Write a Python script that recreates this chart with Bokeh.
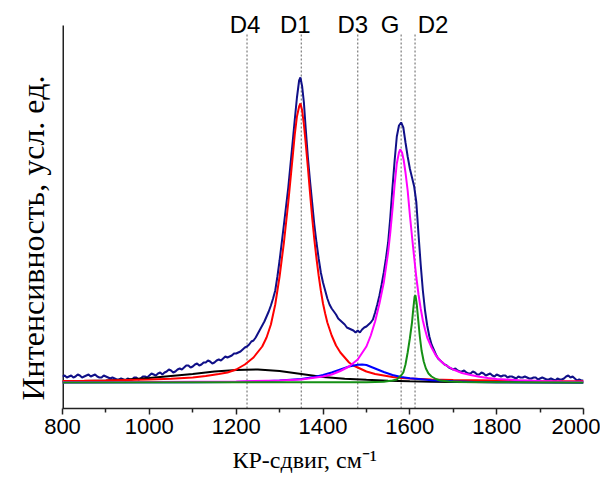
from bokeh.plotting import figure
from bokeh.models import Range1d, FixedTicker, Title
from bokeh.embed import file_html
from bokeh.resources import INLINE
from bokeh.core.properties import value

# ---------------- data ----------------
# Raman shift, cm^-1 ; intensity in arbitrary units (baseline = 0)
env_x = [800, 805, 810, 815, 820, 825, 830, 835, 840, 845,
         850, 855, 860, 865, 870, 875, 880, 885, 890, 895,
         900, 905, 910, 915, 920, 925, 930, 935, 940, 945,
         950, 955, 960, 965, 970, 975, 980, 985, 990, 995,
         1000, 1005, 1010, 1015, 1020, 1025, 1030, 1035, 1040, 1045,
         1050, 1055, 1060, 1065, 1070, 1075, 1080, 1085, 1090, 1095,
         1100, 1105, 1110, 1115, 1120, 1125, 1130, 1135, 1140, 1145,
         1150, 1155, 1160, 1165, 1170, 1175, 1180, 1185, 1190, 1195,
         1200, 1205, 1210, 1215, 1220, 1225, 1230, 1235, 1240, 1245,
         1250, 1255, 1260, 1265, 1270, 1275, 1280, 1285, 1290, 1295,
         1300, 1310, 1320, 1330, 1335, 1340, 1345, 1348, 1352, 1356,
         1360, 1365, 1370, 1375, 1380, 1385, 1390, 1395, 1400, 1405,
         1410, 1415, 1420, 1425, 1430, 1435, 1440, 1445, 1450, 1455,
         1460, 1465, 1470, 1475, 1480, 1485, 1490, 1495, 1500, 1505,
         1510, 1515, 1520, 1525, 1530, 1535, 1540, 1545, 1550, 1555,
         1560, 1565, 1570, 1575, 1580, 1585, 1590, 1595, 1600, 1605,
         1610, 1615, 1620, 1625, 1630, 1635, 1640, 1645, 1650, 1655,
         1660, 1665, 1670, 1675, 1680, 1685, 1690, 1695, 1700, 1705,
         1710, 1715, 1720, 1725, 1730, 1735, 1740, 1745, 1750, 1755,
         1760, 1765, 1770, 1775, 1780, 1785, 1790, 1795, 1800, 1805,
         1810, 1815, 1820, 1825, 1830, 1835, 1840, 1845, 1850, 1855,
         1860, 1865, 1870, 1875, 1880, 1885, 1890, 1895, 1900, 1905,
         1910, 1915, 1920, 1925, 1930, 1935, 1940, 1945, 1950, 1955,
         1960, 1965, 1970, 1975, 1980, 1985, 1990, 1995, 2000]
env_y = [6, 7, 5, 6, 7, 5, 6, 8, 7, 5,
         6, 7, 8, 6, 7, 8, 6, 5, 5, 7,
         6, 5, 4, 5, 4, 3, 3, 4, 3, 2,
         4, 3, 3, 5, 5, 3, 4, 6, 6, 5,
         7, 9, 8, 7, 9, 10, 8, 10, 11, 13,
         12, 10, 11, 13, 14, 13, 15, 17, 17, 15,
         16, 18, 19, 17, 18, 20, 20, 22, 21, 19,
         20, 22, 23, 22, 24, 26, 25, 26, 27, 29,
         29, 30, 31, 33, 35, 36, 38, 41, 42, 45,
         49, 53, 57, 61, 66, 71, 77, 84, 92, 106,
         122, 158, 195, 240, 263, 285, 302, 305, 296, 280,
         255, 226, 202, 180, 158, 140, 124, 110, 100, 92,
         84, 78, 74, 71, 68, 64, 62, 60, 58, 55,
         54, 53, 52, 50, 52, 50, 53, 55, 56, 58,
         60, 63, 70, 78, 87, 98, 110, 124, 140, 165,
         195, 222, 246, 257, 260, 255, 240, 226, 214, 205,
         196, 180, 148, 118, 92, 72, 57, 46, 38, 33,
         28, 24, 22, 20, 18, 17, 15, 14, 13, 14,
         12, 11, 11, 12, 10, 9, 9, 11, 10, 8,
         8, 10, 9, 7, 8, 9, 7, 6, 8, 7,
         6, 7, 7, 5, 6, 6, 5, 4, 6, 5,
         5, 6, 5, 4, 4, 5, 5, 3, 4, 5,
         4, 3, 3, 4, 3, 2, 4, 3, 3, 4,
         6, 7, 5, 6, 4, 2, 3, 2, 2]

d1_x = [800, 850, 900, 950, 1000, 1050, 1100, 1130, 1160, 1180, 1200, 1220, 1240, 1260, 1270, 1280, 1290, 1300, 1310,
        1320, 1330, 1335, 1340, 1345, 1348, 1352, 1356, 1360, 1365, 1370, 1375, 1380, 1385, 1390, 1395, 1400, 1405,
        1410, 1420, 1430, 1440, 1450, 1460, 1470, 1480, 1500, 1520, 1540, 1560, 1580, 1600, 1650, 1700, 1800, 1900, 2000]
d1_y = [1.5, 1.7, 2, 2.5, 3, 3.7, 5, 6.5, 8.5, 10, 13, 18, 25, 36, 45, 58, 78, 106, 140,
        180, 225, 248, 266, 276, 279, 272, 258, 240, 216, 190, 165, 143, 124, 107, 92, 79, 69,
        60, 47, 37, 30, 25, 20, 17, 15, 11, 8.5, 7, 5.5, 4.5, 4, 3, 2.5, 2, 1.5, 1.3]

d4_x = [800, 850, 900, 950, 1000, 1050, 1100, 1150, 1200, 1250, 1300, 1350, 1400, 1450, 1500, 1550, 1600, 1650, 1700, 1800, 2000]
d4_y = [1, 1.5, 2, 3, 4.5, 6.5, 8.5, 11, 12.5, 13, 11.5, 8.5, 5.5, 3.8, 2.7, 1.8, 1.2, 0.7, 0.4, 0.2, 0.1]

d3_x = [800, 1100, 1200, 1250, 1300, 1350, 1380, 1400, 1420, 1440, 1460, 1480, 1490, 1500, 1520, 1540, 1560, 1580,
        1600, 1620, 1650, 1700, 1750, 1800, 2000]
d3_y = [0, 0.2, 0.5, 1, 2, 3.5, 5.5, 7.5, 10, 13, 16, 17.8, 18, 17.5, 14, 10.5, 7.5, 5.5,
        4.3, 3.5, 2.3, 1.2, 0.5, 0.2, 0]

g_x = [800, 1000, 1200, 1300, 1350, 1400, 1420, 1440, 1460, 1480, 1500, 1510, 1520, 1530, 1540, 1550, 1555, 1560,
       1565, 1570, 1575, 1578, 1582, 1586, 1590, 1595, 1600, 1605, 1610, 1615, 1620, 1625, 1630, 1635, 1640, 1650,
       1660, 1670, 1680, 1700, 1720, 1740, 1760, 1780, 1800, 1850, 1900, 1950, 2000]
g_y = [0.3, 0.5, 1, 2, 3, 6, 8, 11.5, 16, 23, 36, 47, 61, 79, 100, 130, 150, 173,
       198, 219, 230, 233, 230, 222, 210, 192, 168, 146, 125, 105, 88, 74, 62, 53, 45, 35,
       27, 22, 18, 13, 9.5, 7.5, 5.8, 4.5, 3.6, 2.3, 1.5, 1, 0.8]

d2_x = [800, 1500, 1540, 1560, 1570, 1580, 1585, 1590, 1595, 1600, 1605, 1608, 1611, 1613, 1616, 1619, 1623, 1627,
        1632, 1637, 1643, 1650, 1660, 1670, 1690, 1720, 2000]
d2_y = [0, 0.3, 0.8, 2, 3, 7, 10, 18, 30, 44, 60, 74, 86, 87, 78, 64, 46, 32,
        21, 14, 9, 6, 3.5, 2, 1, 0.5, 0]

band_names = ["D4", "D1", "D3", "G", "D2"]
band_pos = [1225, 1350, 1480, 1580, 1612]

x_ticks = [800, 1000, 1200, 1400, 1600, 1800, 2000]
x_minor = [900, 1100, 1300, 1500, 1700, 1900]

x_label = "КР-сдвиг, см⁻¹"
y_label = "Интенсивность, усл. ед."

# ---------------- styling ----------------
Y0 = -26          # bottom of the frame (x axis)
Y_AXIS_TOP = 357  # where the drawn y axis line ends
Y_TOP = 377       # top of the frame (room for band names)
Y_NAMES = 358
Y_LINES_TOP = 349
label_dx = [-2, -6, -5, -11, 18]   # pixel offsets of band names relative to their lines

p = figure(width=600, height=490, output_backend="svg", toolbar_location=None,
           x_range=Range1d(800, 2000), y_range=Range1d(Y0, Y_TOP),
           min_border_left=61, min_border_right=17, min_border_top=5, min_border_bottom=82)
p.outline_line_color = None
p.xgrid.visible = False
p.ygrid.visible = False
p.background_fill_color = "white"
p.border_fill_color = "white"
p.yaxis.visible = False

# x axis
p.xaxis.ticker = FixedTicker(ticks=x_ticks, minor_ticks=x_minor)
p.xaxis.axis_line_color = "#222222"
p.xaxis.axis_line_width = 1.5
p.xaxis.major_tick_line_color = "#222222"
p.xaxis.minor_tick_line_color = "#222222"
p.xaxis.major_tick_line_width = 1.5
p.xaxis.minor_tick_line_width = 1.5
p.xaxis.major_tick_in = 0
p.xaxis.major_tick_out = 6
p.xaxis.minor_tick_in = 0
p.xaxis.minor_tick_out = 4
p.xaxis.major_label_standoff = 4
p.xaxis.major_label_text_font = "Liberation Sans"
p.xaxis.major_label_text_font_size = "22px"
p.xaxis.major_label_text_color = "black"

# axis titles
p.add_layout(Title(text=x_label, align="left", offset=170, standoff=16,
                   text_font="Liberation Serif", text_font_size="24px",
                   text_font_style="normal", text_color="black"), "below")
p.add_layout(Title(text=y_label, align="left", offset=8, standoff=24,
                   text_font="Liberation Serif", text_font_size="32px",
                   text_font_style="normal", text_color="black"), "left")

# y axis line
p.segment(x0=[800], y0=[Y0], x1=[800], y1=[Y_AXIS_TOP], line_color="#222222", line_width=3)

# band position lines
p.segment(x0=band_pos, y0=[Y0] * len(band_pos), x1=band_pos, y1=[Y_LINES_TOP] * len(band_pos),
          line_color="#7a7a7a", line_width=1.2, line_dash="2 2")

# curves
p.line(env_x, env_y, line_color="#101088", line_width=2)
p.line(d4_x, d4_y, line_color="black", line_width=2)
p.line(d1_x, d1_y, line_color="#ff0000", line_width=2)
p.line(d3_x, d3_y, line_color="#0000ff", line_width=2)
p.line(g_x, g_y, line_color="#ff00ff", line_width=2)
p.line(d2_x, d2_y, line_color="#159015", line_width=2)

# band names
for name, pos, dx in zip(band_names, band_pos, label_dx):
    p.text(x=[pos], y=[Y_NAMES], text=[name], x_offset=dx, text_align="center",
           text_baseline="middle", text_font=value("Liberation Sans"), text_font_size="24px",
           text_color="black")

open("out.html", "w").write(file_html(p, INLINE))
